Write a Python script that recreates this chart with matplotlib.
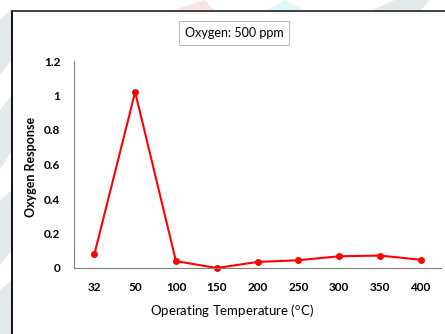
import matplotlib
matplotlib.use('Agg')
import matplotlib.pyplot as plt
from matplotlib.patches import Polygon

matplotlib.rcParams.update({'font.family': ['Lato', 'DejaVu Sans']})

temperatures = ['32', '50', '100', '150', '200', '250', '300', '350', '400']
response = [0.08, 1.02, 0.04, 0.0, 0.035, 0.045, 0.068, 0.072, 0.048]
yticks = [0, 0.2, 0.4, 0.6, 0.8, 1, 1.2]
ytick_labels = ['0', '0.2', '0.4', '0.6', '0.8', '1', '1.2']

W, H = 445, 334
fig = plt.figure(figsize=(W/100, H/100), dpi=100)
fig.patch.set_facecolor('white')

def px(x, y):
    return (x/W, 1 - y/H)

# faint background shapes around the frame
shade = '#e4e9ec'
for pts in [[(0, 20), (12, 8), (12, 60), (0, 75)],
            [(0, 110), (12, 95), (12, 150), (0, 170)],
            [(0, 200), (12, 190), (12, 250), (0, 265)],
            [(0, 290), (12, 280), (12, 334), (0, 334)]]:
    fig.patches.append(Polygon([px(*p) for p in pts], closed=True,
                               transform=fig.transFigure, fc=shade, ec='none'))
fig.patches.append(Polygon([px(*p) for p in [(170, 11), (205, 0), (215, 11)]],
                           closed=True, transform=fig.transFigure,
                           fc='#fbe3e3', ec='none'))
fig.patches.append(Polygon([px(*p) for p in [(265, 11), (285, 0), (305, 11)]],
                           closed=True, transform=fig.transFigure,
                           fc='#dff7f8', ec='none'))
fig.patches.append(Polygon([px(*p) for p in [(370, 11), (395, 0), (430, 0), (420, 11)]],
                           closed=True, transform=fig.transFigure,
                           fc=shade, ec='none'))

# chart frame (left and top edges visible)
fig.add_artist(plt.Line2D([12/W, 12/W], [0, 1 - 11/H], color='black', lw=1.3,
                          transform=fig.transFigure))
fig.add_artist(plt.Line2D([12/W, 1], [1 - 11/H, 1 - 11/H], color='#333333', lw=1.3,
                          transform=fig.transFigure))

ax = fig.add_axes([74/W, 1 - 268/H, (441 - 74)/W, (268 - 61)/H])
x = list(range(len(temperatures)))
ax.plot(x, response, color='#ff0000', lw=1.5, marker='o', markersize=4,
        clip_on=False)

ax.set_xlim(-0.5, len(temperatures) - 0.5)
ax.set_ylim(0, 1.2)
ax.set_xticks(x)
ax.set_xticklabels(temperatures, fontsize=8.5, fontweight='bold')
ax.set_yticks(yticks)
ax.set_yticklabels(ytick_labels, fontsize=8.5, fontweight='bold')
ax.tick_params(axis='x', length=0, pad=10)
ax.tick_params(axis='y', length=0, pad=10)

for side in ['top', 'right']:
    ax.spines[side].set_visible(False)
ax.spines['left'].set_color('#7f7f7f')
ax.spines['bottom'].set_color('#7f7f7f')
ax.spines['left'].set_linewidth(0.8)
ax.spines['bottom'].set_linewidth(0.8)

ax.set_xlabel('Operating Temperature ($^{\\mathregular{o}}$C)', fontsize=9.5)
ax.xaxis.set_label_coords((232 - 74)/367, -(302 - 268)/207)
ax.set_ylabel('Oxygen Response', fontsize=9, fontweight='bold')
ax.yaxis.set_label_coords(-(74 - 37)/367, 0.49)

fig.text(234/W, 1 - 33/H, 'Oxygen: 500 ppm', fontsize=9, ha='center', va='center',
         bbox=dict(boxstyle='square,pad=0.45', fc='white', ec='#bfbfbf', lw=0.8))

fig.savefig('out.png', dpi=100)
